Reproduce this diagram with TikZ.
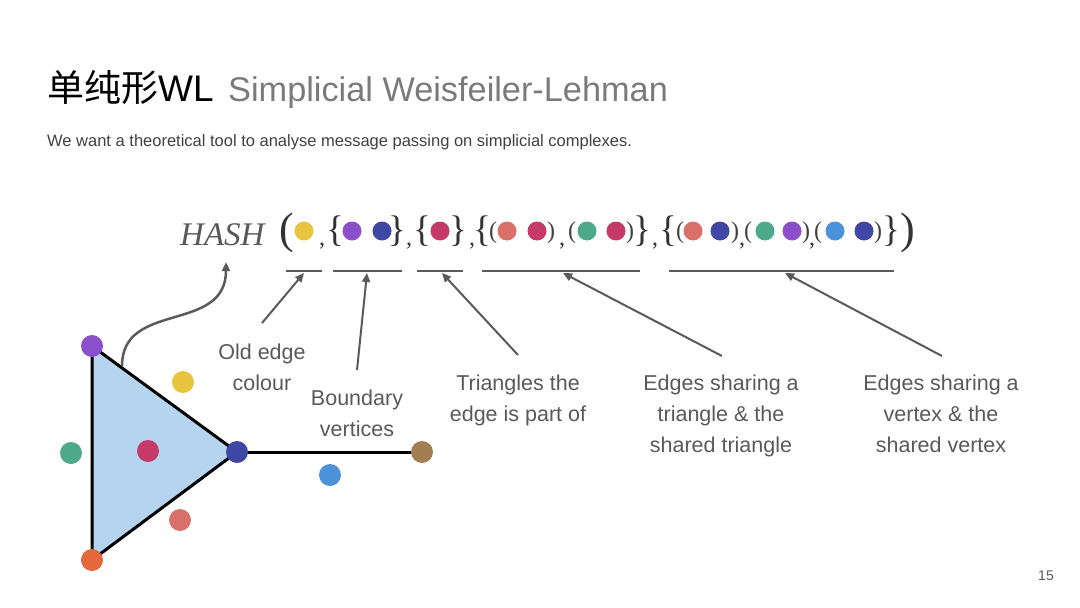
\documentclass[tikz,border=0pt]{standalone}
\usepackage{fontspec}
\setmainfont{Liberation Sans}
\newfontfamily\cjk{Noto Sans CJK SC}
\newfontfamily\tms{Liberation Serif}
\usetikzlibrary{arrows.meta,backgrounds}
\definecolor{dyellow}{HTML}{E9C43F}
\definecolor{dpurple}{HTML}{8B4FCC}
\definecolor{dblue}{HTML}{3F47A5}
\definecolor{dcrimson}{HTML}{C53A68}
\definecolor{dsalmon}{HTML}{D9716A}
\definecolor{dgreen}{HTML}{4DA98A}
\definecolor{dlight}{HTML}{4C92DA}
\definecolor{dorange}{HTML}{E4683B}
\definecolor{dbrown}{HTML}{A27F52}
\definecolor{trifill}{HTML}{B5D4EF}
\definecolor{txtgray}{HTML}{595959}
\definecolor{titlegray}{HTML}{7A7A7A}
\definecolor{arrgray}{HTML}{5A5A5A}
\begin{document}
\begin{tikzpicture}[x=1pt,y=-1pt,
  lbl/.style={text=txtgray, font=\fontsize{21.5}{31}\selectfont, align=center},
  vtx/.style={circle, fill=#1, minimum size=22pt, inner sep=0pt},
  sdot/.style={circle, fill=#1, minimum size=19pt, inner sep=0pt},
  brc/.style={anchor=base, inner sep=0pt, text=black!80, font=\tms\fontsize{37}{40}\selectfont},
  par/.style={anchor=base, inner sep=0pt, text=black!75, font=\tms\fontsize{24}{26}\selectfont},
  cma/.style={anchor=base, inner sep=0pt, text=black!80, font=\tms\fontsize{24}{26}\selectfont},
  ptr/.style={-{Triangle[length=9pt,width=8pt]}, draw=arrgray, line width=2pt},
  ul/.style={draw=arrgray, line width=2pt}]
  \useasboundingbox (0,0) rectangle (1080,608);

  % heading
  \node[anchor=base west, inner sep=0pt, font=\fontsize{37}{40}\selectfont] (title) at (47,101) {{\cjk 单纯形}WL};
  \node[anchor=base west, inner sep=0pt, text=titlegray, font=\fontsize{34.3}{40}\selectfont] (subtitle) at (228,101) {Simplicial Weisfeiler-Lehman};
  \node[anchor=base west, inner sep=0pt, text=black!75, font=\fontsize{16.5}{18}\selectfont] (intro) at (47,146) {We want a theoretical tool to analyse message passing on simplicial complexes.};

  % hash expression
  \node[anchor=base west, inner sep=0pt, text=txtgray, font=\tms\itshape\fontsize{33}{36}\selectfont] (hash) at (180,245) {HASH};
  \node[anchor=base, inner sep=0pt, text=black!80, font=\tms\fontsize{44}{48}\selectfont] (lpar) at (287,243) {(};
  \node[anchor=base, inner sep=0pt, text=black!80, font=\tms\fontsize{44}{48}\selectfont] (rpar) at (908,243) {)};
  \foreach \x in {335,422,482,668} \node[brc] (lb\x) at (\x,241) {\{};
  \foreach \x in {397,458,642,891} \node[brc] (rb\x) at (\x,241) {\}};
  \foreach \x in {493,572,680,748,818} \node[par] (lp\x) at (\x,238) {(};
  \foreach \x in {551,630,735,806,878} \node[par] (rp\x) at (\x,238) {)};
  \foreach \x in {322,409,472,562,655,742,812} \node[cma] (cm\x) at (\x,245) {,};
  \foreach \x/\col in {304/dyellow,352/dpurple,382/dblue,440/dcrimson,507/dsalmon,537/dcrimson,
    587/dgreen,616/dcrimson,693/dsalmon,720/dblue,765/dgreen,792/dpurple,835/dlight,864/dblue}
    \node[sdot=\col] (h\x) at (\x,231) {};

  % underlines
  \draw[ul] (286,271) -- (322,271);
  \draw[ul] (333,271) -- (402,271);
  \draw[ul] (417,271) -- (463,271);
  \draw[ul] (482,271) -- (640,271);
  \draw[ul] (669,271) -- (894,271);

  % labels
  \node[lbl] (oldcol) at (262,367) {Old edge\\colour};
  \node[lbl] (bndry) at (357,413) {Boundary\\vertices};
  \node[lbl] (tris) at (518,400) {Triangles the\\edge is part of};
  \node[lbl] (tshare) at (721,416) {Edges sharing a\\triangle \& the\\shared triangle};
  \node[lbl] (vshare) at (941,414) {Edges sharing a\\vertex \& the\\shared vertex};
  \node[text=txtgray, font=\fontsize{14}{16}\selectfont] (pageno) at (1046,576) {15};

  \coordinate (s1) at (262,323);
  \coordinate (s2) at (357,370);
  \coordinate (s3) at (518,355);
  \coordinate (s4) at (722,356);
  \coordinate (s5) at (942,356);
  \coordinate (e1) at (304,273);
  \coordinate (e2) at (367,273);
  \coordinate (e3) at (442,273);
  \coordinate (e4) at (563,273);
  \coordinate (e5) at (785,273);
  \foreach \i in {1,...,5} \draw[ptr] (s\i) -- (e\i);

  % complex
  \node[vtx=dpurple] (va) at (92,346) {};
  \node[vtx=dblue] (vb) at (237,452) {};
  \node[vtx=dorange] (vc) at (92,560) {};
  \node[vtx=dbrown] (vd) at (422,452) {};
  \node[vtx=dyellow] (eab) at (183,382) {};
  \node[vtx=dgreen] (eac) at (71,453) {};
  \node[vtx=dcrimson] (tabc) at (148,451) {};
  \node[vtx=dsalmon] (ebc) at (180,520) {};
  \node[vtx=dlight] (ebd) at (330,475) {};
  \begin{scope}[on background layer]
    \filldraw[fill=trifill, line width=3pt, line join=round] (va.center) -- (vb.center) -- (vc.center) -- cycle;
    \draw[line width=3pt] (vb.center) -- (vd.center);
  \end{scope}

  \coordinate (cstart) at (122,366);
  \coordinate (hashin) at (226,262);
  \draw[ptr, line width=2.5pt] (cstart) .. controls (122,300) and (226,334) .. (hashin);
\end{tikzpicture}
\end{document}
